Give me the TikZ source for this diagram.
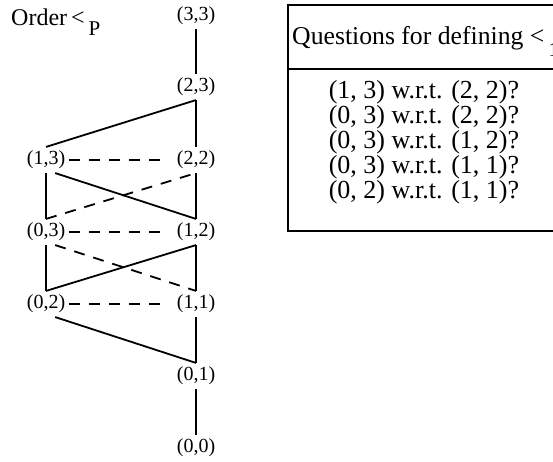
\documentclass[tikz,border=0pt]{standalone}
\usepackage{fontspec}
\setmainfont{Liberation Serif}
\usetikzlibrary{positioning}

\begin{document}
\begin{tikzpicture}[x=1pt, y=-1pt,
        pair/.style={inner sep=1pt, outer sep=3pt, font=\fontsize{20}{20}\selectfont},
        link/.style={line width=1.8pt},
        cmp/.style={line width=1.8pt, dash pattern=on 11pt off 9pt},
        frame/.style={line width=2pt},
    ]
    \useasboundingbox (0,0) rectangle (553,462);

    \node[anchor=base west, inner sep=0pt, font=\fontsize{24}{24}\selectfont] (title) at (11,26)
        {Order\,<\,\raisebox{-10pt}{\fontsize{21}{21}\selectfont P}};

    % the lattice
    \node[pair] (n33) at (196,16)  {(3,3)};
    \node[pair] (n23) at (196,87)  {(2,3)};
    \node[pair] (n13) at (46,160)  {(1,3)};
    \node[pair] (n22) at (196,160) {(2,2)};
    \node[pair] (n03) at (46,232)  {(0,3)};
    \node[pair] (n12) at (196,232) {(1,2)};
    \node[pair] (n02) at (46,304)  {(0,2)};
    \node[pair] (n11) at (196,304) {(1,1)};
    \node[pair] (n01) at (196,376) {(0,1)};
    \node[pair] (n00) at (196,448) {(0,0)};

    \draw[link] (n33) -- (n23);
    \draw[link] (n23) -- (n22);
    \draw[link] (n23.south) -- (n13.north);
    \draw[link] (n13) -- (n03);
    \draw[link] (n22) -- (n12);
    \draw[link] (n13.-55) -- (n12.north);
    \draw[link] (n03) -- (n02);
    \draw[link] (n12) -- (n11);
    \draw[link] (n02.north) -- (n12.south);
    \draw[link] (n02.-55) -- (n01.north);
    \draw[link] (n11) -- (n01);
    \draw[link] (n01) -- (n00);

    \draw[cmp, shorten >=6pt] (n13) -- (n22);
    \draw[cmp, shorten >=6pt] (n03) -- (n12);
    \draw[cmp, shorten >=6pt] (n02) -- (n11);
    \draw[cmp] (n03.north) -- (n22.south);
    \draw[cmp] (n03.-55) -- (n11.north);

    % the table of questions
    \draw[frame] (288,5) rectangle (560,231);
    \draw[frame] (288,69) -- (560,69);
    \node[anchor=base west, inner sep=0pt, font=\fontsize{25.7}{25.7}\selectfont] (head) at (292,45)
        {Questions for defining <\,\raisebox{-12pt}{\fontsize{20}{20}\selectfont 1}};
    \node[inner sep=0pt, align=center, font=\fontsize{26}{25}\selectfont] (qs) at (424,142)
        {(1, 3) w.r.t. (2, 2)?\\
         (0, 3) w.r.t. (2, 2)?\\
         (0, 3) w.r.t. (1, 2)?\\
         (0, 3) w.r.t. (1, 1)?\\
         (0, 2) w.r.t. (1, 1)?};
\end{tikzpicture}
\end{document}
